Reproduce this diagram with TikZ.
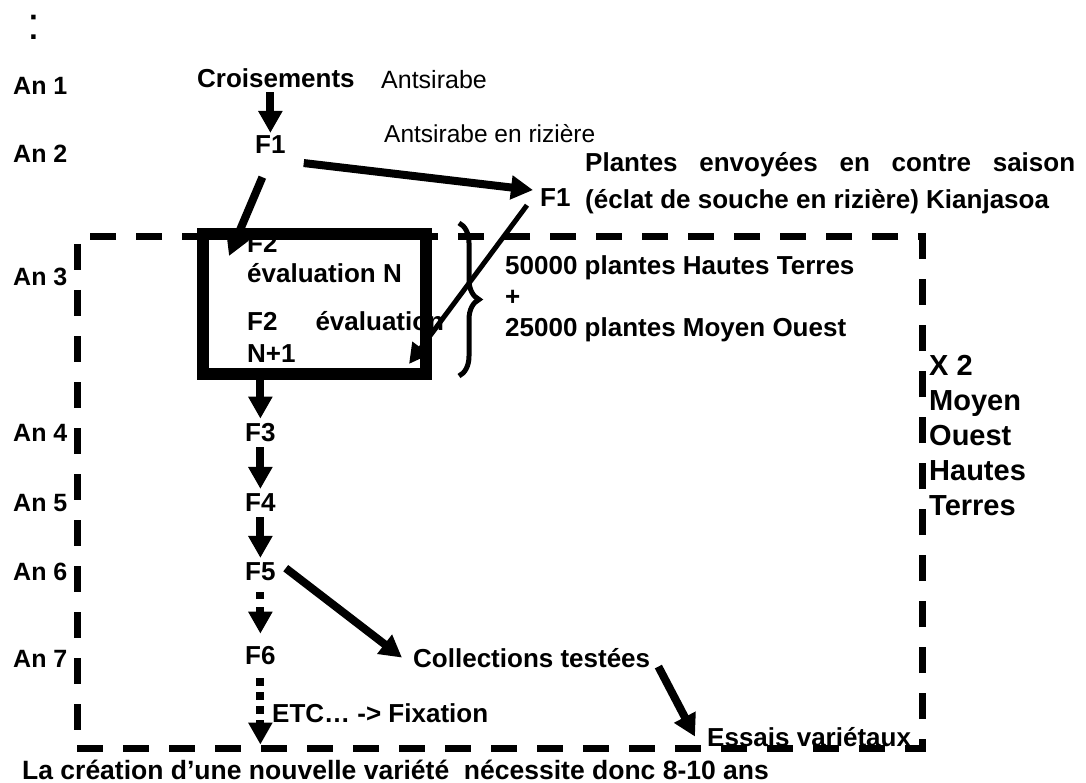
\documentclass[tikz,border=0pt]{standalone}
\usepackage{fontspec}
\setmainfont{Liberation Sans}
\usetikzlibrary{arrows.meta, calc, decorations.pathreplacing}

\begin{document}
\begin{tikzpicture}[
        x=1pt, y=-1pt,
        txt/.style={
            anchor=base west,
            inner sep=0pt,
            align=left,
            font=\bfseries\fontsize{26}{31}\selectfont
        },
        plain/.style={txt, font=\fontsize{25}{29}\selectfont},
        year/.style={txt, font=\bfseries\fontsize{25}{30}\selectfont},
        arrow/.style={
            -{Triangle[length=22pt, width=23pt]},
            line width=8pt
        },
        thinarrow/.style={
            -{Triangle[length=20pt, width=20pt]},
            line width=5pt
        },
        dotarrow/.style={arrow, dash pattern=on 7pt off 8pt},
        zone/.style={
            draw,
            line width=7pt,
            dash pattern=on 26pt off 20pt,
            minimum width=845pt,
            minimum height=511pt,
            inner sep=0pt
        },
        evalbox/.style={
            draw,
            line width=12pt,
            minimum width=223pt,
            minimum height=140pt,
            inner sep=0pt
        }
    ]

    \path[use as bounding box] (0,0) rectangle (1086,783);

    \node[plain, font=\fontsize{46}{46}\selectfont] (colon) at (27,40) {:};

    % years
    \node[year] (an1) at (13,95) {An 1};
    \node[year] (an2) at (13,163) {An 2};
    \node[year] (an3) at (13,286) {An 3};
    \node[year] (an4) at (13,441) {An 4};
    \node[year] (an5) at (13,511) {An 5};
    \node[year] (an6) at (13,580) {An 6};
    \node[year] (an7) at (13,667) {An 7};

    % selection zone
    \node[zone] (zone) at (499.5,492.5) {};

    % multi-line texts sit on their last baseline
    \node[txt] (cross) at (197,88) {Croisements};
    \node[plain] (antsi) at (381,89) {Antsirabe};
    \node[txt] (f1a) at (255,154) {F1};
    \node[plain, font=\fontsize{24.5}{29}\selectfont] (rizi) at (384,143) {Antsirabe en rizière};
    \node[txt] (f1b) at (540,207) {F1};
    \node[txt, font=\bfseries\fontsize{26}{37}\selectfont] (envoi) at (585,209)
        {\makebox[490pt][s]{Plantes envoyées en contre saison}\\(éclat de souche en rizière) Kianjasoa};

    \node[txt, font=\bfseries\fontsize{26}{30}\selectfont] (f2n) at (247,283) {F2\\évaluation N};
    \node[txt, font=\bfseries\fontsize{26}{32}\selectfont] (f2m) at (247,362) {F2\hspace{38pt}évaluation\\N+1};
    \node[txt] (plants) at (505,336) {50000 plantes Hautes Terres\\+\\25000 plantes Moyen Ouest};
    \node[txt, font=\bfseries\fontsize{29}{35}\selectfont] (times) at (929,515) {X 2\\Moyen\\Ouest\\Hautes\\Terres};

    \node[txt] (f3) at (245,441) {F3};
    \node[txt] (f4) at (245,511) {F4};
    \node[txt] (f5) at (245,580) {F5};
    \node[txt] (f6) at (245,664) {F6};
    \node[txt] (etc) at (272,722) {ETC… -> Fixation};
    \node[txt] (coll) at (413,667) {Collections testées};
    \node[txt] (essais) at (707,746) {Essais variétaux};
    \node[txt, font=\bfseries\fontsize{26.5}{31}\selectfont] (concl) at (22,779) {La création d’une nouvelle variété~ nécessite donc 8-10 ans};

    % F2 box and brace
    \node[evalbox] (box) at (314.5,304) {};
    \draw[line width=5pt, decorate, decoration={brace, amplitude=20pt}]
        ($(box.north east)+(27,-5)$) -- ($(box.south east)+(27,-4)$);

    \draw[arrow] ($(cross.south -| f1a.north)+(0,4)$) -- ($(f1a.north)+(0,-3)$);
    \draw[arrow] ($(f1a.east)+(18,18)$) -- ($(f1b.west)+(-7,-8)$);
    \draw[arrow] ($(f1a.south)+(-8,23)$) -- ($(box.north west)+(32,28)$);
    \draw[thinarrow] ($(f1b.south west)+(-13,-2)$) -- ($(box.south east)+(-23,-16)$);

    \draw[arrow] (box.south -| f3.north) -- ($(f3.north)+(0,-4)$);
    \draw[arrow] ($(f3.south)+(0,6)$) -- ($(f4.north)+(0,-4)$);
    \draw[arrow] ($(f4.south)+(0,6)$) -- ($(f5.north)+(0,-4)$);
    \draw[dotarrow] ($(f5.south)+(0,12)$) -- ($(f6.north)+(0,-12)$);
    \draw[dotarrow, dash pattern=on 8pt off 6pt] ($(f6.south)+(0,14)$) -- ($(zone.south -| f6.south)+(0,-7)$);

    \draw[arrow] ($(f5.east)+(10,-3)$) -- ($(coll.west)+(-11,0)$);
    \draw[arrow] ($(coll.east)+(8,9)$) -- ($(essais.west)+(-12,0)$);

\end{tikzpicture}
\end{document}
